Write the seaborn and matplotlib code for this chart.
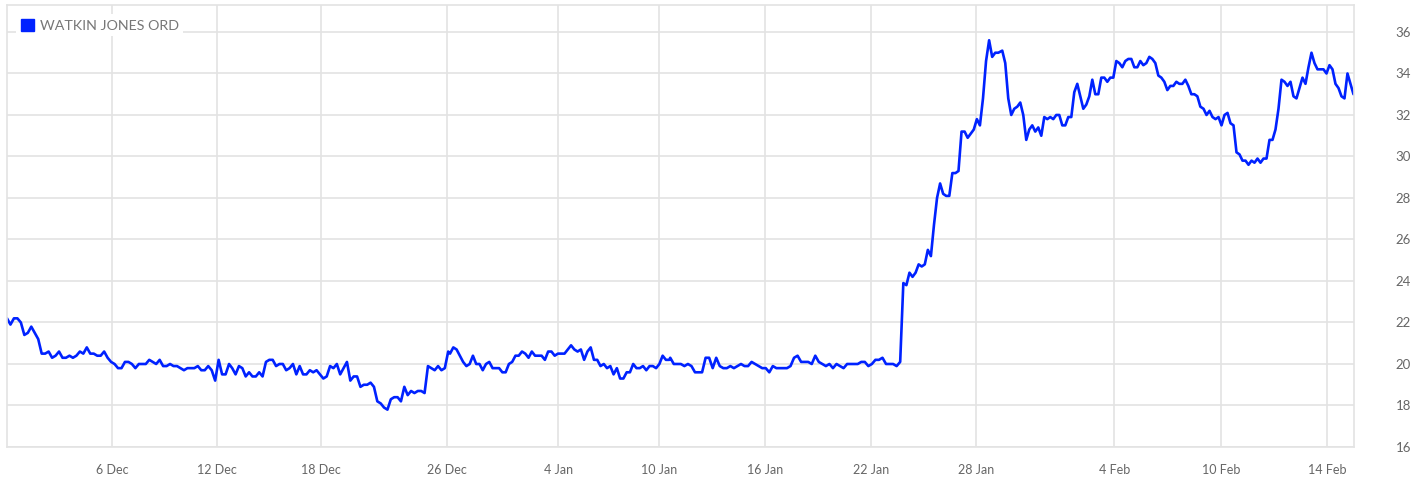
"""
Watkin Jones share price, Dec - Feb, single blue line on a light grid.
"""

import matplotlib.pyplot as plt
import numpy as np
import pandas as pd
import seaborn as sns
from matplotlib.patches import Patch

SERIES_NAME = "WATKIN JONES ORD"
LINE_COLOR = "#0022ff"

# prices (pence), one list per stretch of trading days
price_early_dec = [
    22.2, 21.9, 22.2, 22.2, 22.0, 21.4, 21.5, 21.8, 21.5, 21.2,
    20.5, 20.5, 20.6, 20.3, 20.4, 20.6, 20.3, 20.3, 20.4, 20.3,
    20.4, 20.6, 20.5, 20.8, 20.5, 20.5, 20.4, 20.4, 20.6, 20.3,
    20.1, 20.0, 19.8, 19.8, 20.1, 20.1, 20.0, 19.8, 20.0, 20.0,
    20.0, 20.2, 20.1, 20.0, 20.2, 19.9, 19.9, 20.0, 19.9, 19.9,
    19.8, 19.7, 19.8, 19.8, 19.8, 19.9, 19.7, 19.7, 19.9, 19.7,
    19.2, 20.2, 19.5, 19.5, 20.0,
]
price_mid_dec = [
    19.8, 19.5, 19.9, 19.8, 19.4, 19.6, 19.4, 19.4, 19.6, 19.4,
    20.1, 20.2, 20.2, 19.9, 20.0, 20.0, 19.7, 19.8, 20.0, 19.5,
    19.9, 19.5, 19.5, 19.7, 19.6, 19.7, 19.5, 19.3, 19.4, 19.9,
    19.8, 20.0, 19.5, 19.8, 20.1, 19.2, 19.4, 19.4, 18.9, 19.0,
    19.0, 19.1, 18.9, 18.2, 18.1, 17.9, 17.8, 18.3, 18.4, 18.4,
    18.2, 18.9, 18.5, 18.7, 18.6, 18.7, 18.7, 18.6, 19.9, 19.8,
    19.7, 19.9, 19.7, 19.8, 20.6,
]
price_new_year = [
    20.5, 20.8, 20.7, 20.4, 20.1, 19.9, 20.0, 20.4, 20.0, 20.0,
    19.7, 20.0, 20.1, 19.8, 19.8, 19.8, 19.6, 19.6, 20.0, 20.1,
    20.4, 20.4, 20.6, 20.5, 20.3, 20.6, 20.4, 20.4, 20.4, 20.2,
    20.6, 20.6, 20.4, 20.5, 20.5, 20.5, 20.7, 20.9, 20.7, 20.6,
    20.7, 20.2, 20.6, 20.8, 20.2, 20.2, 19.9, 20.0, 19.8, 19.9,
    19.5, 19.8, 19.3, 19.3, 19.6, 19.6, 20.0, 19.8, 19.8, 19.9,
    19.7, 19.9, 19.9, 19.8, 20.0, 20.4, 20.2, 20.2,
]
price_mid_jan = [
    20.3, 20.0, 20.0, 20.0, 19.9, 20.0, 19.9, 19.6, 19.6, 19.6,
    20.3, 20.3, 19.8, 20.3, 19.9, 19.8, 19.8, 19.9, 19.8, 19.9,
    20.0, 19.9, 19.9, 20.1, 20.0, 19.9, 19.8, 19.8, 19.6, 19.9,
    19.8, 19.8, 19.8, 19.8, 19.9, 20.3, 20.4, 20.1, 20.1, 20.1,
    20.0, 20.4, 20.1, 20.0, 19.9, 20.0, 19.8, 20.0, 19.9, 19.8,
    20.0, 20.0, 20.0, 20.0, 20.1, 20.1, 19.9, 20.0, 20.2, 20.2,
    20.3, 20.0, 20.0, 20.0, 19.9, 20.1,
]
price_jump = [
    23.9, 23.8, 24.4, 24.2, 24.4, 24.8, 24.7, 24.8, 25.5, 25.2,
    26.7, 28.0, 28.7, 28.2, 28.1, 28.1, 29.2, 29.2, 29.3, 31.2,
    31.2, 30.9, 31.1, 31.3, 31.8, 31.5, 32.8, 34.6, 35.6, 34.8,
    35.0, 35.0,
]
price_early_feb = [
    35.1, 34.5, 32.8, 32.0, 32.3, 32.4, 32.6, 32.0, 30.8, 31.3,
    31.5, 31.2, 31.4, 31.0, 31.9, 31.8, 31.9, 31.8, 32.0, 32.0,
    31.5, 31.5, 31.9, 31.9, 33.1, 33.5, 32.9, 32.3, 32.5, 32.9,
    33.7, 33.0, 33.0, 33.8, 33.8, 33.6, 33.8, 33.8, 34.6, 34.5,
    34.3, 34.6, 34.7, 34.7, 34.3, 34.3, 34.6, 34.4, 34.5, 34.8,
    34.7, 34.5, 33.9, 33.8, 33.6, 33.2, 33.4, 33.4, 33.6, 33.5,
    33.5, 33.7, 33.4, 33.0, 33.0, 32.9, 32.4,
]
price_mid_feb = [
    32.3, 32.0, 32.2, 31.9, 31.8, 31.9, 31.5, 32.0, 32.1, 31.6,
    31.5, 30.2, 30.1, 29.8, 29.8, 29.6, 29.8, 29.7, 29.9, 29.7,
    29.9, 29.9, 30.8, 30.8, 31.3, 32.3, 33.7, 33.6, 33.4, 33.6,
    32.9, 32.8, 33.3, 33.8, 33.5, 34.3, 35.0, 34.5, 34.2, 34.2,
    34.2, 34.0, 34.4, 34.2, 33.5, 33.3, 32.9, 32.8, 34.0, 33.5,
    33.0,
]

# start / end of each stretch, in trading days since 2 Dec
segment_days = [
    (0.0, 8.44), (8.56, 16.77), (16.84, 25.17), (25.21, 33.95),
    (34.07, 37.68), (37.83, 45.36), (45.48, 51.18),
]

tick_days = [3.99, 7.98, 11.94, 16.73, 20.95, 24.79, 28.82,
             32.85, 36.84, 42.09, 46.16, 50.19]
tick_labels = ["6 Dec", "12 Dec", "18 Dec", "26 Dec", "4 Jan", "10 Jan",
               "16 Jan", "22 Jan", "28 Jan", "4 Feb", "10 Feb", "14 Feb"]
y_ticks = list(range(16, 37, 2))


def build_frame() -> pd.DataFrame:
    segments = [price_early_dec, price_mid_dec, price_new_year, price_mid_jan,
                price_jump, price_early_feb, price_mid_feb]
    parts = []
    for prices, (start, end) in zip(segments, segment_days):
        parts.append(pd.DataFrame({
            "day": np.linspace(start, end, len(prices)),
            "price": prices,
        }))
    return pd.concat(parts, ignore_index=True)


def plot_price(save_path: str = "out.png") -> None:
    sns.set_style("white")
    plt.rcParams["font.family"] = ["Lato", "DejaVu Sans"]

    df = build_frame()

    fig = plt.figure(figsize=(14.19, 4.88), dpi=100)
    ax = fig.add_axes([7 / 1419, 1 - 447 / 488, 1347 / 1419, 442 / 488])

    sns.lineplot(data=df, x="day", y="price", ax=ax, color=LINE_COLOR,
                 lw=1.9, estimator=None, sort=False)

    ax.set_xlim(0, 51.2)
    ax.set_ylim(16, 37.3)
    ax.set_xticks(tick_days)
    ax.set_xticklabels(tick_labels)
    ax.set_yticks(y_ticks)
    ax.yaxis.tick_right()
    ax.set_xlabel("")
    ax.set_ylabel("")

    ax.grid(True, color="#e3e3e3", lw=1.2)
    ax.set_axisbelow(True)
    for spine in ax.spines.values():
        spine.set_color("#e3e3e3")
        spine.set_linewidth(1.2)
    ax.tick_params(axis="x", length=0, pad=12, labelsize=9, colors="#666666")
    ax.tick_params(axis="y", length=0, pad=30, labelsize=9.5, colors="#666666")

    handle = Patch(facecolor=LINE_COLOR, edgecolor=LINE_COLOR)
    leg = ax.legend([handle], [SERIES_NAME], loc="upper left",
                    frameon=True, fancybox=False, framealpha=1,
                    facecolor="white", edgecolor="none",
                    fontsize=10.3, handlelength=0.95, handleheight=0.95,
                    handletextpad=0.4, borderaxespad=0.65, borderpad=0.3)
    for text in leg.get_texts():
        text.set_color("#777777")

    fig.savefig(save_path, dpi=100)
    plt.close(fig)


if __name__ == "__main__":
    plot_price()
